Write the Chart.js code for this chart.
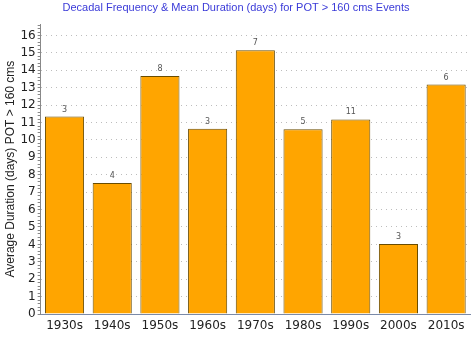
<!DOCTYPE html>
<html>
<head>
<meta charset="utf-8">
<script src="https://cdn.jsdelivr.net/npm/chart.js@4"></script>
<style>
  html, body { margin: 0; padding: 0; background: #fff; }
  #wrap { width: 474px; height: 337px; }
</style>
</head>
<body>
<div id="wrap"><canvas id="durationChart"></canvas></div>
<script>
// decades and mean duration (days)
const decades = ['1930s', '1940s', '1950s', '1960s', '1970s', '1980s', '1990s', '2000s', '2010s'];
const meanDuration = [11.35, 7.52, 13.67, 10.65, 15.15, 10.62, 11.18, 4.02, 13.18];
// number of events per decade (labels above the bars)
const eventCount = [3, 4, 8, 3, 7, 5, 11, 3, 6];

// Draw the count labels above each bar
const countLabels = {
    id: 'countLabels',
    afterDatasetsDraw(chart) {
        const ctx = chart.ctx;
        const meta = chart.getDatasetMeta(0);
        ctx.save();
        ctx.font = '8px "DejaVu Sans"';
        ctx.fillStyle = '#555';
        ctx.textAlign = 'center';
        ctx.textBaseline = 'bottom';
        meta.data.forEach((bar, i) => {
            ctx.fillText(eventCount[i], bar.x, bar.y - 3);
        });
        ctx.restore();
    }
};

function isWhole(value) {
    return Math.abs(value - Math.round(value)) < 0.01;
}

var ctx = document.getElementById('durationChart').getContext('2d');
var durationChart = new Chart(ctx, {
    type: 'bar',
    data: {
        labels: decades,
        datasets: [{
            data: meanDuration,
            backgroundColor: '#FFA500',
            borderColor: '#6a4c00',
            borderWidth: 1,
            barPercentage: 0.82,
            categoryPercentage: 1.0
        }]
    },
    options: {
        responsive: true,
        maintainAspectRatio: false,
        animation: false,
        layout: { padding: { left: 2, right: 4, top: 0, bottom: -1 } },
        plugins: {
            legend: { display: false },
            tooltip: { enabled: false },
            title: {
                display: true,
                text: 'Decadal Frequency & Mean Duration (days) for POT > 160 cms Events',
                color: '#3a3ad8',
                font: { family: '"Liberation Sans"', size: 11, weight: 'normal' },
                padding: { top: 1, bottom: 10 }
            }
        },
        scales: {
            x: {
                grid: { display: false, drawTicks: false },
                border: { color: '#7a8aa8', width: 1 },
                ticks: {
                    color: '#222',
                    font: { family: '"DejaVu Sans"', size: 12, lineHeight: 1 },
                    maxRotation: 0,
                    padding: 6
                }
            },
            y: {
                min: 0,
                max: 16.65,
                border: { color: '#888', width: 1, dash: [1, 4] },
                grid: {
                    color: c => (c.tick && isWhole(c.tick.value) && c.tick.value > 0) ? '#bdbdbd' : 'transparent',
                    tickColor: '#888',
                    tickLength: 3,
                    lineWidth: 1
                },
                afterBuildTicks: axis => {
                    const ticks = [];
                    for (let v = 0; v <= 83; v++) {
                        ticks.push({ value: v / 5 });
                    }
                    axis.ticks = ticks;
                },
                ticks: {
                    autoSkip: false,
                    color: '#222',
                    font: { family: '"DejaVu Sans"', size: 12 },
                    padding: 2,
                    callback: function (value) {
                        return isWhole(value) ? Math.round(value) : '';
                    }
                },
                title: {
                    display: true,
                    text: 'Average Duration (days) POT > 160 cms',
                    color: '#222',
                    font: { family: '"Liberation Sans"', size: 12 },
                    padding: { top: 1, bottom: 1 }
                }
            }
        }
    },
    plugins: [countLabels]
});
</script>
</body>
</html>
